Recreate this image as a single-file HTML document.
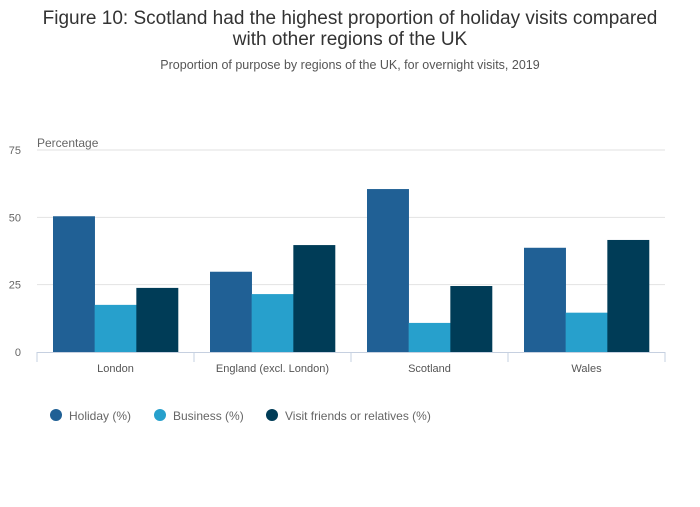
<!DOCTYPE html>
<html><head><meta charset="utf-8"><style>
body{margin:0;background:#fff;width:700px;height:502px;overflow:hidden;font-family:"Liberation Sans",sans-serif}
</style></head><body>
<svg width="700" height="502" font-family="Liberation Sans, sans-serif">
<text x="350" y="24" text-anchor="middle" font-size="19" fill="#333">Figure 10: Scotland had the highest proportion of holiday visits compared</text>
<text x="350" y="45" text-anchor="middle" font-size="19" fill="#333">with other regions of the UK</text>
<text x="350" y="69" text-anchor="middle" font-size="12.5" fill="#555">Proportion of purpose by regions of the UK, for overnight visits, 2019</text>
<text x="37" y="147" font-size="12" fill="#666">Percentage</text>
<g id="grid"></g><g id="bars"></g><g id="xaxis"></g>
<g font-size="12" fill="#666">
<circle cx="56" cy="415" r="6" fill="#206095"/>
<text x="69" y="420">Holiday (%)</text>
<circle cx="160" cy="415" r="6" fill="#27a0cc"/>
<text x="173" y="420">Business (%)</text>
<circle cx="272" cy="415" r="6" fill="#003c57"/>
<text x="285" y="420">Visit friends or relatives (%)</text>
</g>
</svg>
<script>
const categories=["London","England (excl. London)","Scotland","Wales"];
const holiday=[50.4,29.8,60.5,38.7];
const business=[17.5,21.5,10.8,14.6];
const vfr=[23.8,39.7,24.5,41.6];
const yTicks=[0,25,50,75];
const ns="http://www.w3.org/2000/svg";
const L=37,R=665,Y0=352,Y1=150,MAX=75;
const y=v=>Y0-(Y0-Y1)*v/MAX;
const gw=(R-L)/categories.length;
function mk(t,a,p){const e=document.createElementNS(ns,t);for(const k in a)e.setAttribute(k,a[k]);p.appendChild(e);return e;}
const grid=document.getElementById('grid');
yTicks.forEach(t=>{
 if(t>0){const l=mk('line',{x1:L,x2:R,y1:y(t),y2:y(t),stroke:'#e2e2e2'},grid);
 
 }
 const tx=mk('text',{x:21,y:y(t)+4,'text-anchor':'end','font-size':11,fill:'#666'},grid);tx.textContent=t;
 
 
});
const bars=document.getElementById('bars');
const series=[[holiday,'#206095','holiday'],[business,'#27a0cc','business'],[vfr,'#003c57','vfr']];
const pad=16,bw=(gw-2*pad)/3;
categories.forEach((c,i)=>{
 series.forEach(([d,col,nm],j)=>{
  const r=mk('rect',{x:L+i*gw+pad+j*bw,y:y(d[i]),width:bw+0.3,height:Y0-y(d[i]),fill:col},bars);
  
  
 });
});
const xa=document.getElementById('xaxis');
const ax=mk('line',{x1:L,x2:R,y1:Y0+0.5,y2:Y0+0.5,stroke:'#c6d0e0'},xa);


for(let i=0;i<=categories.length;i++){
 const tk=mk('line',{x1:L+i*gw,x2:L+i*gw,y1:Y0,y2:Y0+10,stroke:'#c6d0e0'},xa);
 
 
}
categories.forEach((c,i)=>{
 const t=mk('text',{x:L+(i+0.5)*gw,y:372,'text-anchor':'middle','font-size':11,fill:'#555'},xa);t.textContent=c;
 
 
});
</script>
</body></html>
